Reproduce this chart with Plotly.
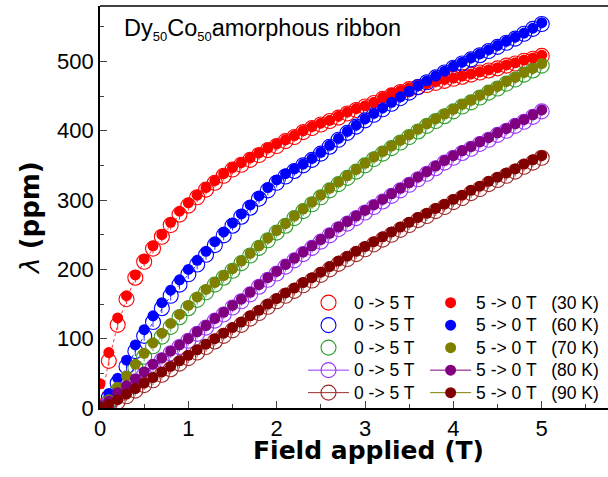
import plotly.graph_objects as go

field = [round(0.1 * i, 1) for i in range(51)]

# 30 K
up_30 = [2, 68, 120, 157, 188, 211, 230, 247, 264, 279, 292, 304, 315, 325, 335, 344, 351, 358, 365, 372,
         378, 385, 391, 398, 404, 409, 414, 419, 425, 430, 435, 440, 446, 451, 456, 460, 463, 466, 469, 472,
         475, 478, 481, 484, 487, 490, 494, 497, 501, 504, 508]
down_30 = [35, 80, 130, 162, 192, 215, 234, 250, 268, 284, 296, 307, 318, 328, 338, 347, 354, 361, 368, 375,
           381, 387, 393, 400, 406, 411, 415, 421, 427, 432, 436, 441, 448, 454, 458, 462, 465, 468, 471, 474,
           476, 479, 482, 485, 488, 491, 495, 498, 502, 505, 509]
# 60 K
up_60 = [0, 15, 36, 60, 82, 104, 124, 144, 162, 178, 193, 207, 221, 235, 249, 263, 276, 289, 302, 314,
         325, 334, 342, 350, 358, 367, 377, 387, 397, 406, 415, 423, 431, 439, 447, 455, 463, 470, 477, 484,
         491, 497, 503, 509, 515, 521, 527, 533, 540, 547, 554]
down_60 = [2, 21, 43, 69, 91, 113, 133, 152, 170, 185, 200, 213, 226, 240, 254, 267, 280, 293, 306, 318,
           329, 338, 345, 352, 360, 369, 379, 389, 399, 408, 417, 425, 433, 441, 449, 457, 465, 472, 479, 486,
           493, 499, 505, 511, 517, 523, 529, 535, 541, 548, 556]
# 70 K
up_70 = [0, 9, 25, 41, 58, 74, 89, 103, 117, 131, 144, 156, 167, 178, 188, 198, 209, 220, 231, 242,
         253, 263, 274, 284, 294, 304, 314, 323, 332, 341, 350, 359, 367, 375, 383, 391, 399, 407, 414, 421,
         428, 435, 441, 448, 455, 461, 468, 474, 481, 487, 494]
down_70 = [1, 12, 30, 46, 63, 79, 94, 108, 122, 135, 148, 160, 171, 181, 191, 201, 212, 223, 234, 245,
           256, 266, 277, 287, 297, 307, 317, 326, 335, 344, 353, 362, 370, 378, 386, 394, 402, 410, 417, 424,
           431, 438, 444, 451, 458, 464, 471, 477, 484, 490, 497]
# 80 K
up_80 = [0, 7, 18, 28, 38, 48, 59, 69, 79, 88, 97, 107, 116, 126, 135, 145, 154, 164, 175, 185,
         194, 204, 213, 222, 231, 240, 249, 258, 266, 274, 282, 290, 298, 306, 314, 322, 330, 338, 346, 354,
         361, 368, 374, 381, 387, 394, 400, 407, 413, 420, 428]
down_80 = [1, 10, 22, 32, 42, 52, 63, 72, 82, 91, 100, 110, 119, 129, 138, 148, 157, 167, 178, 188,
           197, 207, 216, 225, 234, 243, 252, 261, 269, 277, 285, 293, 301, 309, 317, 325, 333, 341, 349, 357,
           364, 371, 377, 384, 390, 397, 403, 410, 416, 423, 430]
# 90 K
up_90 = [0, 3, 9, 17, 25, 33, 40, 48, 56, 64, 72, 80, 88, 96, 104, 112, 120, 129, 137, 146,
         154, 162, 169, 177, 184, 192, 200, 208, 215, 222, 229, 236, 243, 250, 257, 264, 271, 277, 284, 290,
         297, 303, 310, 316, 323, 329, 335, 341, 348, 354, 361]
down_90 = [1, 5, 12, 20, 28, 36, 44, 52, 60, 68, 76, 84, 92, 100, 108, 116, 124, 133, 141, 150,
           158, 166, 173, 181, 188, 196, 204, 212, 219, 226, 233, 240, 247, 254, 261, 268, 275, 281, 288, 294,
           301, 307, 314, 320, 327, 333, 339, 345, 352, 358, 364]

temps = ["30 K", "60 K", "70 K", "80 K", "90 K"]
up_series = [up_30, up_60, up_70, up_80, up_90]
down_series = [down_30, down_60, down_70, down_80, down_90]
open_colors = ["#FF0000", "#0000FF", "#2E9E2E", "#9933FF", "#9E2A2A"]
fill_colors = ["#FF0000", "#0000FF", "#808000", "#800080", "#800000"]
legend_line = [False, False, False, True, True]
down_line_colors = ["#FF0000", "#0000FF", "#808000", "#800080", "#808000"]

FONT = "Arial, Liberation Sans, sans-serif"
TFONT = "DejaVu Sans, Arial, sans-serif"
NB = "\u00a0"


def lg(t):
    return '<span style="font-size:17.5px">' + t + '</span>'


fig = go.Figure()

# thin connecting lines (not in legend)
for i in range(5):
    fig.add_trace(go.Scatter(x=field, y=up_series[i], mode="lines",
                             line=dict(color=open_colors[i], width=0.8, dash="dot"),
                             showlegend=False, hoverinfo="skip"))

for i in range(5):
    fig.add_trace(go.Scatter(
        x=field, y=up_series[i],
        mode="lines+markers" if legend_line[i] else "markers",
        line=dict(color=open_colors[i], width=1),
        marker=dict(symbol="circle-open", size=15, color=open_colors[i], line=dict(width=1.1)),
        error_y=dict(type="constant", value=7, thickness=0.8, width=0, color=open_colors[i]),
        name=lg("0 -> 5 T"), legend="legend", showlegend=True))

for i in range(5):
    fig.add_trace(go.Scatter(
        x=field, y=down_series[i],
        mode="lines+markers" if legend_line[i] else "markers",
        line=dict(color=down_line_colors[i], width=1),
        marker=dict(symbol="circle", size=11, color=fill_colors[i]),
        name=lg("5 -> 0 T" + NB * 3 + "(" + temps[i] + ")"), legend="legend2", showlegend=True))

leg_common = dict(font=dict(family=FONT, size=15, color="#000000"), bgcolor="rgba(0,0,0,0)",
                  borderwidth=0, itemwidth=41, tracegroupgap=0, yanchor="top", xanchor="left",
                  itemsizing="trace")

fig.update_layout(
    width=608, height=477,
    margin=dict(l=100, r=0, t=6, b=69),
    paper_bgcolor="white", plot_bgcolor="white",
    font=dict(family=FONT, color="#000000"),
    xaxis=dict(range=[0, 5.75], tickvals=[0, 1, 2, 3, 4, 5], ticks="inside", ticklen=7, tickwidth=1.2,
               showline=True, linewidth=1.6, linecolor="#000000", showgrid=False, zeroline=False,
               tickfont=dict(size=22, family=FONT), ticklabelstandoff=0,
               minor=dict(tickvals=[0.5, 1.5, 2.5, 3.5, 4.5, 5.5], ticks="inside", ticklen=4, tickwidth=1.2)),
    yaxis=dict(range=[0, 580], tickvals=[0, 100, 200, 300, 400, 500], ticks="inside", ticklen=7, tickwidth=1.2,
               showline=True, linewidth=1.6, linecolor="#000000", showgrid=False, zeroline=False,
               tickfont=dict(size=22, family=FONT), ticklabelstandoff=0,
               minor=dict(tickvals=[50, 150, 250, 350, 450, 550], ticks="inside", ticklen=4, tickwidth=1.2)),
    legend=dict(x=0.3996, y=0.3025, **leg_common),
    legend2=dict(x=0.640, y=0.3025, **leg_common),
    showlegend=True,
)

fig.add_shape(type="line", xref="paper", yref="paper", x0=0, x1=1, y0=1, y1=1,
              line=dict(color="#000000", width=1.6))

fig.add_annotation(text='Dy<sub><span style="font-size:13px">50</span></sub>Co<sub><span style="font-size:13px">50</span></sub>amorphous ribbon',
                   xref="paper", yref="paper",
                   x=(122 - 100) / 508, y=(408 - 29) / 402, xanchor="left", yanchor="middle",
                   showarrow=False, font=dict(family=FONT, size=23.5, color="#000000"))
fig.add_annotation(text="<b>Field applied (T)</b>", xref="paper", yref="paper",
                   x=(368 - 100) / 508, y=(408 - 451) / 402, xanchor="center", yanchor="middle",
                   showarrow=False, font=dict(family=TFONT, size=25, color="#000000"))
fig.add_annotation(text="<i>λ</i> <b>(ppm)</b>", xref="paper", yref="paper",
                   x=(30 - 100) / 508, y=(408 - 218) / 402, xanchor="center", yanchor="middle",
                   textangle=-90, showarrow=False, font=dict(family=TFONT, size=26, color="#000000"))

fig.write_html("out.html", config={"displayModeBar": False},
               post_script="document.body.style.margin='0';")
